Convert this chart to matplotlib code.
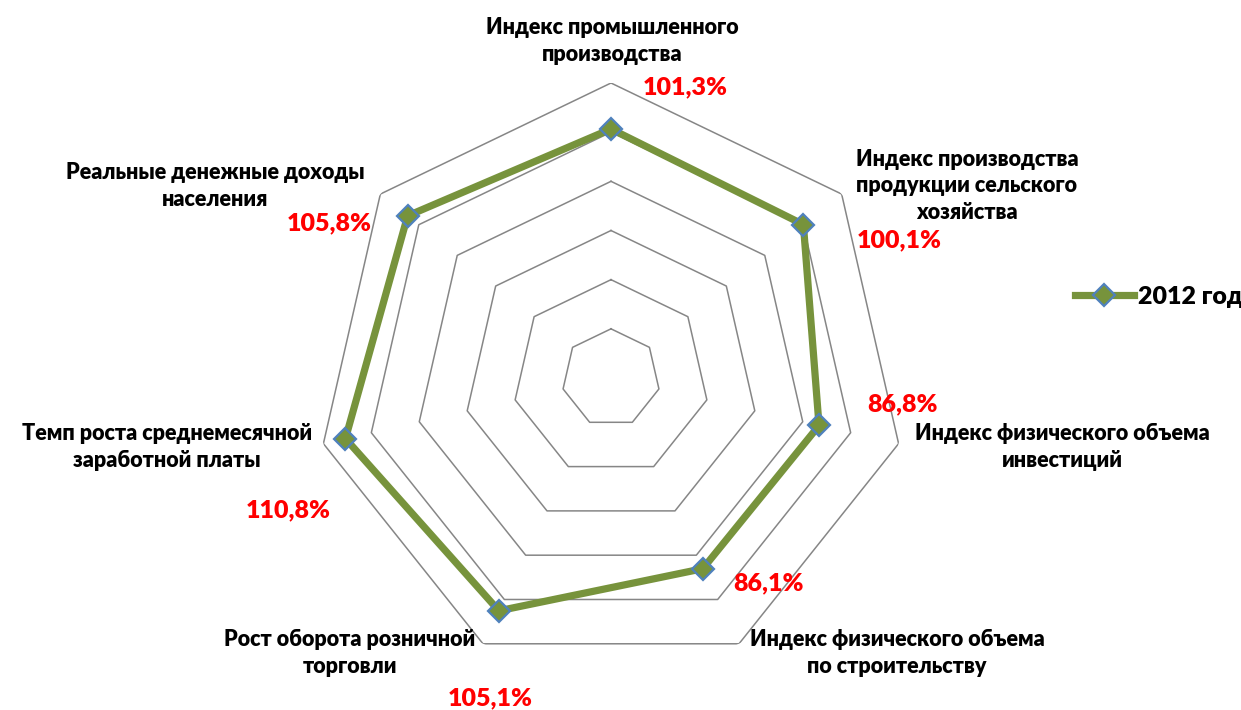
import numpy as np
import matplotlib.pyplot as plt
from matplotlib.lines import Line2D

categories = [
    'Индекс промышленного\nпроизводства',
    'Индекс производства\nпродукции сельского\nхозяйства',
    'Индекс физического объема\nинвестиций',
    'Индекс физического объема\nпо строительству',
    'Рост оборота розничной\nторговли',
    'Темп роста среднемесячной\nзаработной платы',
    'Реальные денежные доходы\nнаселения',
]
values_2012 = [101.3, 100.1, 86.8, 86.1, 105.1, 110.8, 105.8]
value_labels = ['101,3%', '100,1%', '86,8%', '86,1%', '105,1%', '110,8%', '105,8%']
rings = [20, 40, 60, 80, 100, 120]
series_name = '2012 год'

W, H = 1241, 710
plt.rcParams['font.family'] = ['Lato', 'Open Sans', 'DejaVu Sans']

fig = plt.figure(figsize=(W / 100, H / 100), dpi=100)
cx, cy, R = 611, 378, 295
ax = fig.add_axes([(cx - R) / W, (H - cy - R) / H, 2 * R / W, 2 * R / H], polar=True)
ax.set_theta_offset(np.pi / 2)
ax.set_theta_direction(-1)
ax.set_ylim(0, 120)
ax.axis('off')

n = len(categories)
angles = np.linspace(0, 2 * np.pi, n, endpoint=False)
closed = np.append(angles, angles[0])

# heptagon grid
for r in rings:
    ax.plot(closed, [r] * (n + 1), color='#868686', lw=1.1, zorder=1)

vals = values_2012 + values_2012[:1]
ax.plot(closed, vals, color='#77933C', lw=5.2, zorder=3, solid_joinstyle='miter')
ax.plot(angles, values_2012, ls='none', marker='D', ms=11, mfc='#77933C',
        mec='#4F81BD', mew=1.6, zorder=4)

# label positions in pixels (layout)
cat_pos = [(612, 41), (967, 186), (1062, 447), (897, 653), (350, 653), (167, 447), (215, 186)]
val_pos = [(685, 87), (899, 240), (903, 404), (768, 583), (490, 698), (288, 510), (329, 223)]

for txt, (x, y) in zip(categories, cat_pos):
    fig.text(x / W, 1 - y / H, txt, ha='center', va='center', fontsize=15.5,
             fontweight='heavy', linespacing=1.3)
for txt, (x, y) in zip(value_labels, val_pos):
    fig.text(x / W, 1 - y / H, txt, ha='center', va='center', fontsize=18,
             fontweight='heavy', color='red')

handle = Line2D([], [], color='#77933C', lw=5.2, marker='D', ms=11,
                mfc='#77933C', mec='#4F81BD', mew=1.6)
fig.legend([handle], [series_name], loc='center left', bbox_to_anchor=(1075 / W, 1 - 297 / H),
           frameon=False, handlelength=2.35, handletextpad=0.15, borderpad=0,
           borderaxespad=0, prop={'weight': 'heavy', 'size': 18})

fig.savefig('out.png', dpi=100)
